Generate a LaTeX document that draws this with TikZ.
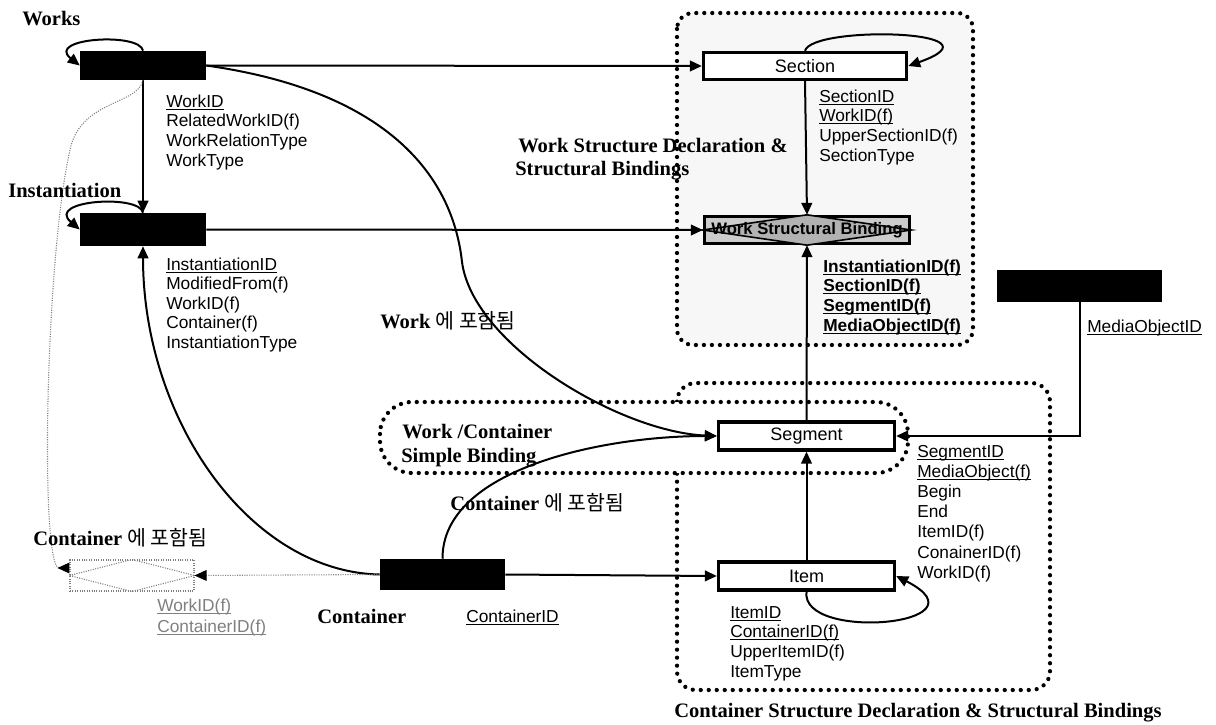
\documentclass[tikz,border=0pt]{standalone}
\usepackage{fontspec}
\setmainfont{Liberation Serif}
\setsansfont{Liberation Sans}
\newfontfamily\cjk{Noto Sans CJK KR}
\usetikzlibrary{arrows.meta,calc}

\newcommand\attrblock[6][]{%
  \foreach \aT [count=\aI from 0] in {#6}
    \node[attr,#1] (#2-\aI) at (#3,#4+#5*\aI) {\aT};}
\newcommand\ul[1]{\underline{\smash{#1}}}

\begin{document}
\begin{tikzpicture}[x=0.75pt,y=-0.75pt,
  blackbox/.style={fill=black, inner sep=0pt},
  ent/.style={draw=black, line width=2.5pt, fill=white, inner sep=0pt,
    font=\sffamily\fontsize{13.5}{15}\selectfont},
  attr/.style={anchor=base west, inner sep=0pt, font=\sffamily\fontsize{13}{15}\selectfont},
  lbl/.style={anchor=base west, inner sep=0pt, font=\bfseries\fontsize{15.4}{18}\selectfont},
  conn/.style={line width=1.5pt, -{Triangle[length=9pt,width=8pt]}},
  dotbox/.style={line width=3.2pt, dash pattern=on 0pt off 6pt, line cap=round},
  thindot/.style={gray, line width=0.8pt, densely dotted},
]
\useasboundingbox[fill=white] (0,0) rectangle (1216,724);

% group frames
\draw[dotbox, fill=gray!6, rounded corners=12pt] (677,13) rectangle (973,345);
\draw[dotbox, rounded corners=14pt] (677,383) rectangle (1050,690);
\draw[dotbox, fill=white, rounded corners=24pt] (380,402) rectangle (908,473);

% entities
\node[blackbox, minimum width=94.5pt, minimum height=21.75pt] (works) at (143,65.5) {};
\node[blackbox, minimum width=94.5pt, minimum height=24.75pt] (inst) at (143,229.5) {};
\node[blackbox, minimum width=93.75pt, minimum height=23.25pt] (cont) at (442.5,574.5) {};
\node[blackbox, minimum width=123.75pt, minimum height=24pt] (mo) at (1079.5,286) {};

\node[ent, minimum width=152.25pt, minimum height=20.25pt] (section) at (805,66) {Section};
\node[ent, minimum width=132pt, minimum height=21pt] (seg) at (806.5,436) {Segment};
\node[ent, minimum width=132pt, minimum height=21pt] (item) at (806.5,576) {Item};
\node[ent, fill=gray!40, minimum width=153.75pt, minimum height=20.25pt] (wsb) at (807,230) {};
\draw[line width=1.2pt, fill=gray!60] (wsb.west) -- (wsb.north) -- (wsb.east) -- (wsb.south) -- cycle;
\node[font=\sffamily\bfseries\fontsize{12.5}{14}\selectfont, inner sep=0pt] (wsbtext) at (wsb) {Work Structural Binding};

% left (dotted) relation box
\node[draw=gray, line width=0.8pt, densely dotted, minimum width=93pt, minimum height=23.25pt, inner sep=0pt] (lbox) at (132,575.5) {};
\draw[thindot] (lbox.west) -- (lbox.north) -- (lbox.east) -- (lbox.south) -- cycle;

% connectors
\draw[conn] (works.south) -- (inst.north);
\draw[conn] (works.east) -- (section.west);
\draw[conn] (inst.east) -- (wsb.west);
\draw[conn] (section.south) -- (wsb.north);
\draw[conn] (seg.north) -- (wsb.south);
\draw[conn] (item.north) -- (seg.south);
\draw[conn] (cont.east) -- (item.west);
\draw[conn] (mo.south) |- (seg.east);

\draw[conn] (works.north) .. controls (140,32) and (45,38) .. (works.west);
\draw[conn] (inst.north) .. controls (140,194) and (45,200) .. (inst.west);
\draw[conn] (section.north) .. controls (812,25) and (1010,30) .. (section.east);
\draw[conn] (item.south) .. controls (800,642) and (992,625) .. (item.east);

\draw[conn] (works.east) .. controls (380,90) and (452,170) .. (462,262)
  .. controls (473,345) and (620,432) .. (seg.west);
\draw[conn] (cont.north) .. controls (442,470) and (600,436) .. (seg.west);
\draw[conn] (cont.west) .. controls (250,572) and (143,420) .. (inst.south);

\draw[thindot, -{Triangle[length=9pt,width=8pt,color=black]}] (cont.west) -- (lbox.east);
\draw[thindot, -{Triangle[length=9pt,width=8pt,reversed,color=black]}] (works.south)
  .. controls (138,105) and (80,100) .. (70,150)
  .. controls (45,260) and (40,568) .. ($(lbox.west)+(0,-7.5)$);

% attributes
\attrblock{wa}{166}{107}{19.7}{\ul{WorkID},RelatedWorkID(f),WorkRelationType,WorkType}
\attrblock{ia}{166}{270}{19.6}{\ul{InstantiationID},ModifiedFrom(f),WorkID(f),Container(f),InstantiationType}
\attrblock{sa}{819}{102}{19.7}{\ul{SectionID},\ul{WorkID(f)},UpperSectionID(f),SectionType}
\attrblock[font=\sffamily\bfseries\fontsize{13}{15}\selectfont]{ba}{823}{272}{19.7}{\ul{InstantiationID(f)},\ul{SectionID(f)},\ul{SegmentID(f)},\ul{MediaObjectID(f)}}
\attrblock{ma}{1087}{332}{20}{\ul{MediaObjectID}}
\attrblock{ga}{917}{457}{20.2}{\ul{SegmentID},\ul{MediaObject(f)},Begin,End,ItemID(f),ConainerID(f),WorkID(f)}
\attrblock{ta}{730}{618}{19.8}{\ul{ItemID},\ul{ContainerID(f)},UpperItemID(f),ItemType}
\attrblock{ca}{466}{622}{20}{\ul{ContainerID}}
\attrblock[text=gray]{la}{157}{611}{21}{\ul{WorkID(f)},\ul{ContainerID(f)}}

% labels
\node[lbl] (lworks) at (22,26) {Works};
\node[lbl] (linst) at (8,197) {Instantiation};
\node[lbl] (lwsd1) at (518,152) {Work Structure Declaration \&};
\node[lbl] (lwsd2) at (515,175) {Structural Bindings};
\node[lbl] (lwork) at (380,328) {Work {\cjk\mdseries 에 포함됨}};
\node[lbl] (lwc1) at (402,438) {Work /Container};
\node[lbl] (lwc2) at (401,462) {Simple Binding};
\node[lbl] (lcin1) at (450,510) {Container {\cjk\mdseries 에 포함됨}};
\node[lbl] (lcin2) at (33,545) {Container {\cjk\mdseries 에 포함됨}};
\node[lbl] (lcont) at (317,623) {Container};
\node[lbl, anchor=base] (lcsd) at (918,717) {Container Structure Declaration \& Structural Bindings};
\end{tikzpicture}
\end{document}
